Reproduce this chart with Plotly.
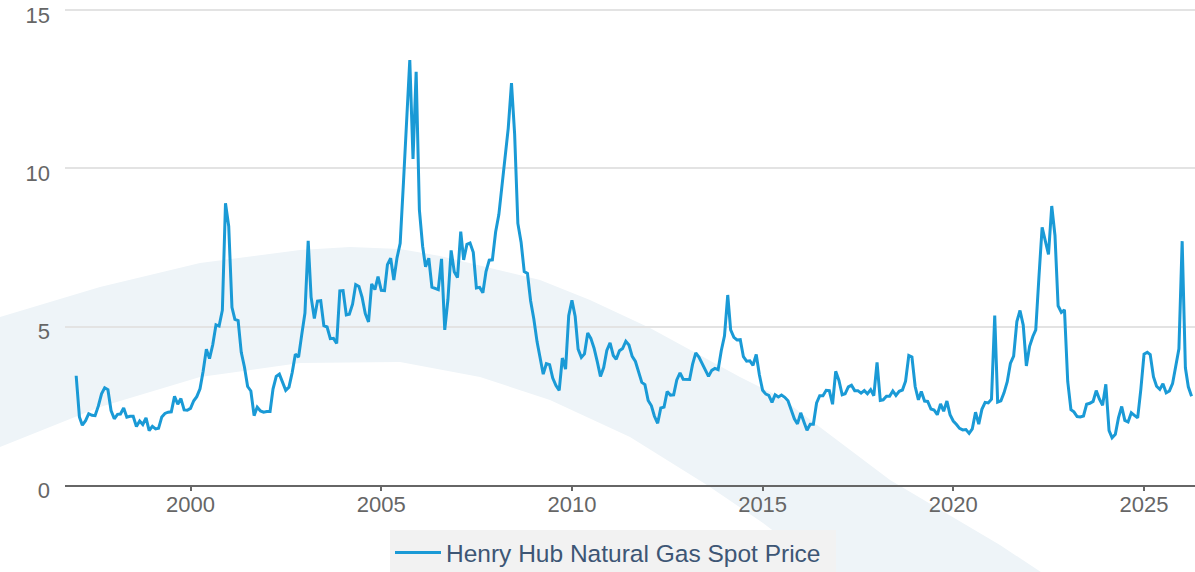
import pandas as pd
import plotly.graph_objects as go

# Henry Hub natural gas spot price, monthly averages ($/MMBtu), Jan 1997 onward
prices_1997_2001 = [
    3.45, 2.15, 1.89, 2.03, 2.25, 2.20, 2.19, 2.49, 2.88, 3.07, 3.01, 2.35,
    2.09, 2.23, 2.24, 2.43, 2.14, 2.17, 2.17, 1.85, 2.02, 1.91, 2.12, 1.72,
    1.85, 1.77, 1.79, 2.15, 2.26, 2.30, 2.31, 2.80, 2.55, 2.73, 2.37, 2.36,
    2.42, 2.66, 2.79, 3.04, 3.59, 4.29, 3.99, 4.43, 5.06, 5.02, 5.52, 8.90,
    8.17, 5.61, 5.23, 5.19, 4.19, 3.72, 3.11, 2.97, 2.19, 2.46, 2.34, 2.30,
]
prices_2002_2006 = [
    2.32, 2.32, 3.03, 3.43, 3.50, 3.26, 2.99, 3.09, 3.55, 4.13, 4.04, 4.74,
    5.43, 7.71, 5.93, 5.26, 5.81, 5.82, 5.03, 4.99, 4.62, 4.63, 4.47, 6.13,
    6.14, 5.37, 5.39, 5.71, 6.33, 6.27, 5.93, 5.41, 5.15, 6.35, 6.17, 6.58,
    6.15, 6.14, 6.96, 7.16, 6.47, 7.18, 7.63, 9.53, 11.75, 13.42, 10.30, 13.05,
    8.69, 7.54, 6.89, 7.16, 6.25, 6.21, 6.17, 7.14, 4.90, 5.85, 7.41, 6.73,
]
prices_2007_2011 = [
    6.55, 8.00, 7.11, 7.60, 7.64, 7.35, 6.22, 6.24, 6.07, 6.74, 7.10, 7.11,
    7.99, 8.54, 9.41, 10.18, 11.27, 12.69, 11.09, 8.26, 7.67, 6.74, 6.68, 5.82,
    5.24, 4.52, 4.06, 3.50, 3.83, 3.80, 3.38, 3.14, 2.99, 4.01, 3.66, 5.35,
    5.83, 5.32, 4.29, 4.03, 4.14, 4.80, 4.63, 4.32, 3.89, 3.43, 3.71, 4.25,
    4.49, 4.09, 3.97, 4.24, 4.31, 4.54, 4.42, 4.06, 3.90, 3.57, 3.24, 3.17,
]
prices_2012_2016 = [
    2.67, 2.50, 2.17, 1.95, 2.43, 2.46, 2.95, 2.84, 2.85, 3.32, 3.54, 3.34,
    3.33, 3.33, 3.81, 4.17, 4.04, 3.83, 3.62, 3.43, 3.62, 3.68, 3.64, 4.24,
    4.71, 6.00, 4.90, 4.66, 4.58, 4.59, 4.05, 3.91, 3.92, 3.78, 4.12, 3.48,
    2.99, 2.87, 2.83, 2.61, 2.85, 2.78, 2.84, 2.77, 2.66, 2.34, 2.09, 1.93,
    2.28, 1.99, 1.73, 1.92, 1.92, 2.59, 2.82, 2.82, 2.99, 2.98, 2.55, 3.59,
]
prices_2017_2021 = [
    3.30, 2.85, 2.88, 3.10, 3.15, 2.98, 2.98, 2.90, 2.98, 2.88, 3.01, 2.82,
    3.87, 2.67, 2.69, 2.80, 2.80, 2.97, 2.83, 2.96, 3.00, 3.28, 4.09, 4.04,
    3.11, 2.69, 2.95, 2.65, 2.64, 2.40, 2.37, 2.22, 2.56, 2.33, 2.65, 2.22,
    2.02, 1.91, 1.79, 1.74, 1.75, 1.63, 1.77, 2.30, 1.92, 2.39, 2.61, 2.59,
    2.71, 5.35, 2.62, 2.66, 2.91, 3.26, 3.84, 4.07, 5.16, 5.51, 5.05, 3.76,
]
prices_2022_2026 = [
    4.38, 4.69, 4.90, 6.60, 8.14, 7.70, 7.28, 8.81, 7.88, 5.66, 5.45, 5.53,
    3.27, 2.38, 2.31, 2.16, 2.15, 2.18, 2.55, 2.58, 2.64, 2.98, 2.71, 2.52,
    3.18, 1.72, 1.49, 1.60, 2.12, 2.48, 2.04, 1.99, 2.28, 2.20, 2.12, 3.01,
    4.13, 4.19, 4.12, 3.42, 3.12, 3.02, 3.20, 2.91, 2.97, 3.20, 3.80, 4.30,
    7.70, 3.70, 3.10, 2.80,
]
series_name = "Henry Hub Natural Gas Spot Price"
start_month = "1997-01-01"
y_ticks = [0, 5, 10, 15]
x_tick_years = ["2000", "2005", "2010", "2015", "2020", "2025"]

prices = (prices_1997_2001 + prices_2002_2006 + prices_2007_2011
          + prices_2012_2016 + prices_2017_2021 + prices_2022_2026)
months = pd.date_range(start_month, periods=len(prices), freq="MS")

W, H = 1195, 572
ML, MR, MT, MB = 65, 0, 6, 87
PW, PH = W - ML - MR, H - MT - MB
Y_TOP = 15 * (H - MB - MT) / (H - MB - 10)  # so that 15 sits at pixel row 10


def px_to_paper(px, py):
    return (px - ML) / PW, (H - MB - py) / PH


# background watermark arc (pixel outline of the light band)
outer_edge = [(-5, 318), (0, 317), (100, 287), (200, 263), (300, 250), (350, 247),
              (400, 249), (440, 256), (540, 280), (590, 300), (650, 328),
              (740, 377), (780, 397), (890, 480), (1000, 545), (1050, 578)]
inner_edge = [(835, 578), (763, 523), (707, 485), (630, 437), (550, 400),
              (480, 377), (400, 362), (300, 363), (200, 377), (100, 407),
              (0, 447), (-5, 449)]
pts = [px_to_paper(x, y) for x, y in outer_edge + inner_edge]
band_path = "M " + " L ".join(f"{x:.4f},{y:.4f}" for x, y in pts) + " Z"

fig = go.Figure()
fig.add_trace(go.Scatter(
    x=months, y=prices, mode="lines", name=series_name,
    line=dict(color="#1a9ad6", width=3),
))

fig.update_layout(
    width=W, height=H,
    margin=dict(l=ML, r=MR, t=MT, b=MB, autoexpand=False),
    paper_bgcolor="white",
    plot_bgcolor="rgba(0,0,0,0)",
    font=dict(family="Liberation Sans, Arial, sans-serif", size=22, color="#666666"),
    shapes=[dict(type="path", path=band_path, xref="paper", yref="paper",
                 fillcolor="#eef4f8", line=dict(width=0), layer="below")],
    showlegend=True,
    legend=dict(
        x=px_to_paper(390, 0)[0], y=px_to_paper(0, 530)[1],
        xanchor="left", yanchor="top",
        orientation="h", entrywidth=385, entrywidthmode="pixels",
        bgcolor="#f2f2f2", borderwidth=0,
        font=dict(size=24.5, color="#3d5675"),
        itemwidth=46,
    ),
    xaxis=dict(
        type="date",
        range=["1996-09-16", "2026-05-04"],
        tickvals=[f"{y}-01-01" for y in x_tick_years],
        ticktext=x_tick_years,
        showgrid=False, zeroline=False,
        showline=True, linecolor="#666666", linewidth=2,
        ticks="outside", ticklen=4, tickwidth=2, tickcolor="#666666",
        ticklabelstandoff=-5,
        tickfont=dict(size=22, color="#666666"),
    ),
    yaxis=dict(
        range=[0, Y_TOP],
        tickvals=y_ticks,
        showgrid=True, gridcolor="#e3e3e3", gridwidth=2,
        zeroline=False, showline=False,
        ticklabelstandoff=14,
        ticklabeloverflow="allow",
        ticklabelshift=5,
        tickfont=dict(size=22, color="#666666"),
    ),
)

fig.write_html("out.html", config={"displayModeBar": False},
               post_script="document.body.style.margin='0';")
